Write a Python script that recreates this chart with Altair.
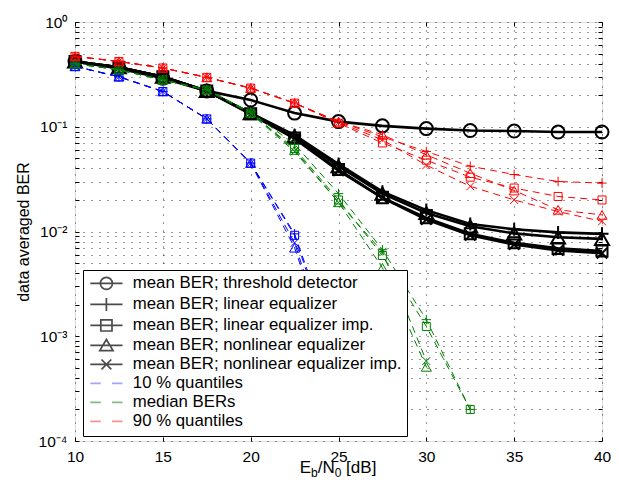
import altair as alt
import pandas as pd

FONT = "Liberation Sans"

# ---------------- data ----------------
x_db = [10, 12.5, 15, 17.5, 20, 22.5, 25, 27.5, 30, 32.5, 35, 37.5, 40]

# mean BERs (black, solid)
mean_thr    = [0.42, 0.36, 0.29, 0.22, 0.18, 0.135, 0.112, 0.102, 0.096, 0.092, 0.091, 0.089, 0.089]
mean_lin    = [0.42, 0.37, 0.30, 0.22, 0.135, 0.083, 0.044, 0.024, 0.016, 0.0118, 0.0105, 0.0098, 0.0095]
mean_linimp = [0.42, 0.37, 0.30, 0.22, 0.133, 0.078, 0.039, 0.021, 0.0135, 0.0095, 0.0078, 0.0069, 0.0065]
mean_nl     = [0.42, 0.37, 0.30, 0.22, 0.135, 0.081, 0.042, 0.023, 0.0150, 0.0112, 0.0096, 0.0088, 0.0085]
mean_nlimp  = [0.42, 0.37, 0.30, 0.22, 0.132, 0.077, 0.038, 0.021, 0.0130, 0.0092, 0.0075, 0.0066, 0.0062]

# 10 % quantiles (blue, dashed)
q10_lin    = [0.377, 0.30, 0.217, 0.119, 0.045, 0.0095, 0.0006]
q10_linimp = [0.377, 0.30, 0.217, 0.119, 0.045, 0.0092, 0.0005]
q10_nl     = [0.377, 0.30, 0.217, 0.119, 0.045, 0.0070, 0.0004]
q10_nlimp  = [0.377, 0.30, 0.217, 0.119, 0.045, 0.0078, 0.0004]

# median BERs (green, dashed)
med_lin    = [0.40, 0.35, 0.28, 0.226, 0.138, 0.068, 0.023, 0.0067, 0.00144, 0.0002]
med_linimp = [0.40, 0.35, 0.28, 0.224, 0.135, 0.062, 0.020, 0.0059, 0.00124, 0.0002]
med_nl     = [0.40, 0.35, 0.28, 0.226, 0.137, 0.060, 0.019, 0.0045, 0.00051]
med_nlimp  = [0.40, 0.35, 0.28, 0.224, 0.134, 0.058, 0.019, 0.0064, 0.00058]

# 90 % quantiles (red, dashed)
q90_lin    = [0.47, 0.42, 0.364, 0.296, 0.234, 0.168, 0.112, 0.080, 0.058, 0.042, 0.035, 0.030, 0.029]
q90_linimp = [0.47, 0.42, 0.364, 0.296, 0.234, 0.168, 0.108, 0.070, 0.048, 0.033, 0.026, 0.0216, 0.020]
q90_nl     = [0.47, 0.42, 0.364, 0.296, 0.234, 0.168, 0.112, 0.084, 0.054, 0.036, 0.0246, 0.0161, 0.0144]
q90_nlimp  = [0.47, 0.42, 0.364, 0.296, 0.234, 0.168, 0.110, 0.075, 0.043, 0.027, 0.020, 0.0155, 0.0125]

x_ticks = [10, 15, 20, 25, 30, 35, 40]
y_tick_labels = ["10\u207b\u2074", "10\u207b\u00b3", "10\u207b\u00b2", "10\u207b\u00b9", "10\u2070"]

leg_labels = [
    "mean BER; threshold detector",
    "mean BER; linear equalizer",
    "mean BER; linear equalizer imp.",
    "mean BER; nonlinear equalizer",
    "mean BER; nonlinear equalizer imp.",
    "10 % quantiles",
    "median BERs",
    "90 % quantiles",
]
xlabel_parts = ["E", "b", "/N", "0", "[dB]"]

# ---------------- table ----------------
groups = {
    "mean": {"thr": mean_thr, "lin": mean_lin, "linimp": mean_linimp, "nl": mean_nl, "nlimp": mean_nlimp},
    "q10": {"lin": q10_lin, "linimp": q10_linimp, "nl": q10_nl, "nlimp": q10_nlimp},
    "med": {"lin": med_lin, "linimp": med_linimp, "nl": med_nl, "nlimp": med_nlimp},
    "q90": {"lin": q90_lin, "linimp": q90_linimp, "nl": q90_nl, "nlimp": q90_nlimp},
}
rows = []
for g, d in groups.items():
    for e, vals in d.items():
        for xv, v in zip(x_db, vals):
            rows.append({"x": xv, "ber": v, "group": g, "est": e, "series": g + "_" + e})
df = pd.DataFrame(rows)

# ---------------- styles ----------------
W, H = 527, 419
PLUS = "M-1,0L1,0M0,-1L0,1"
CROSS = "M-1,-1L1,1M-1,1L1,-1"
marker = {"thr": "circle", "lin": PLUS, "linimp": "square", "nl": "triangle-up", "nlimp": CROSS}
style = {
    "mean": dict(color="#000000", lw=2.6, dash=None, mw=2.0,
                 size={"thr": 169, "lin": 169, "linimp": 121, "nl": 196, "nlimp": 110}),
    "q10": dict(color="#0000ff", lw=1, dash=[7, 5], mw=1.0,
                size={"lin": 90, "linimp": 64, "nl": 100, "nlimp": 64}),
    "med": dict(color="#008000", lw=1, dash=[7, 5], mw=1.0,
                size={"lin": 90, "linimp": 64, "nl": 100, "nlimp": 64}),
    "q90": dict(color="#ff0000", lw=1, dash=[7, 5], mw=1.0,
                size={"lin": 90, "linimp": 64, "nl": 100, "nlimp": 64}),
}

xscale = alt.Scale(domain=[10, 40], nice=False, zero=False)
yscale = alt.Scale(type="log", domain=[1e-4, 1], nice=False)

y_vals = [m * 10.0 ** k for k in range(-4, 0) for m in range(1, 10)] + [1.0]
decades = [1e-4, 1e-3, 1e-2, 1e-1, 1.0]
expr = "''"
for dv, lab in zip(decades, y_tick_labels):
    expr = f"abs(datum.value - {dv}) < {dv * 1e-6} ? '{lab}' : " + "(" + expr + ")"

GRID = dict(grid=True, gridColor="#222222", gridDash=[1, 7], gridWidth=1, gridOpacity=0.9)
ax_x_main = alt.Axis(orient="bottom", values=x_ticks, format="d", domain=False, tickSize=4, offset=-4,
                     tickColor="black", labelPadding=8, labelFontSize=15.5, labelFont=FONT,
                     labelColor="black", labelFlush=False, labelOverlap=False, title=None, **GRID)
ax_y_main = alt.Axis(orient="left", values=y_vals, labelExpr=expr, domain=False, tickSize=4, offset=-4,
                     tickColor="black", labelPadding=8, labelFontSize=15.5, labelFont=FONT,
                     labelColor="black", labelOverlap=False, labelFlush=False,
                     title="data averaged BER", titleFont=FONT, titleFontSize=16,
                     titleFontWeight="normal", titleColor="black", titlePadding=7, **GRID)
ax_x_top = alt.Axis(orient="top", values=x_ticks, labels=False, domain=False, grid=False, tickSize=4,
                    offset=-4, tickColor="black", title=None)
ax_y_right = alt.Axis(orient="right", values=y_vals, labels=False, domain=False, grid=False, tickSize=4,
                      offset=-4, tickColor="black", title=None)

layers = []
first = True
for g, d in groups.items():
    st = style[g]
    sub = df[df.group == g]
    lkw = dict(color=st["color"], strokeWidth=st["lw"])
    if st["dash"]:
        lkw["strokeDash"] = st["dash"]
    xa = ax_x_main if first else None
    ya = ax_y_main if first else None
    first = False
    layers.append(
        alt.Chart(sub).mark_line(**lkw).encode(
            x=alt.X("x:Q", scale=xscale, axis=xa),
            y=alt.Y("ber:Q", scale=yscale, axis=ya),
            detail="series:N",
        )
    )
    for e in d:
        pts = sub[sub.est == e]
        layers.append(
            alt.Chart(pts).mark_point(shape=marker[e], filled=False, color=st["color"],
                                      strokeWidth=st["mw"], size=st["size"][e], opacity=1).encode(
                x=alt.X("x:Q", scale=xscale, axis=None),
                y=alt.Y("ber:Q", scale=yscale, axis=None),
            )
        )

# legend layer (points placed outside the domain and clipped; only the legend shows)
leg_shapes = [
    "M-2.3,0L2.3,0M-0.86,0A0.86,0.86,0,1,1,0.86,0A0.86,0.86,0,1,1,-0.86,0",
    "M-2.3,0L2.3,0M0,-0.93L0,0.93",
    "M-2.3,0L2.3,0M-0.8,-0.8L0.8,-0.8L0.8,0.8L-0.8,0.8Z",
    "M-2.3,0L2.3,0M0,-0.85L0.95,0.75L-0.95,0.75Z",
    "M-2.3,0L2.3,0M-0.7,-0.7L0.7,0.7M-0.7,0.7L0.7,-0.7",
    "M-2.3,0L-0.8,0M0.8,0L2.3,0",
    "M-2.3,0L-0.8,0M0.8,0L2.3,0",
    "M-2.3,0L-0.8,0M0.8,0L2.3,0",
]
leg_colors = ["#000000"] * 5 + ["#7f7fff", "#4fa04f", "#ff5f5f"]
leg_df = pd.DataFrame({"leg": leg_labels, "x": [1000] * 8, "ber": [0.5] * 8})
legend = alt.Legend(title=None, orient="none", legendX=8, legendY=248, fillColor="white",
                    strokeColor="black", padding=5, labelFont=FONT, labelFontSize=16.8,
                    labelColor="black", labelLimit=500, symbolSize=196, symbolOffset=10,
                    labelOffset=18, rowPadding=1, symbolStrokeWidth=1.7)
layers.append(
    alt.Chart(leg_df).mark_point(filled=False, clip=True).encode(
        x=alt.X("x:Q", scale=xscale, axis=ax_x_top),
        y=alt.Y("ber:Q", scale=yscale, axis=ax_y_right),
        color=alt.Color("leg:N", scale=alt.Scale(domain=leg_labels, range=leg_colors), legend=legend),
        shape=alt.Shape("leg:N", scale=alt.Scale(domain=leg_labels, range=leg_shapes), legend=legend),
    )
)

# x-axis title with subscripts: E_b/N_0 [dB]
fs_main, fs_sub = 17, 12
widths = [0.667 * fs_main, 0.556 * fs_sub, 1.0 * fs_main, 0.556 * fs_sub + 0.278 * fs_main, 1.834 * fs_main]
total = sum(widths)
xpos = W / 2 - total / 2
one = pd.DataFrame({"a": [0]})
for i, part in enumerate(xlabel_parts):
    is_sub = part in ("b", "0")
    layers.append(
        alt.Chart(one).mark_text(align="left", baseline="alphabetic", font=FONT,
                                 fontSize=fs_sub if is_sub else fs_main, color="black").encode(
            x=alt.value(xpos), y=alt.value(H + (36 if is_sub else 32)), text=alt.value(part)
        )
    )
    xpos += widths[i]

chart = alt.layer(*layers).resolve_axis(x="independent", y="independent").properties(
    width=W, height=H,
    autosize=alt.AutoSizeParams(type="none"),
    padding={"left": 67, "top": 14, "right": 9, "bottom": 42},
).configure_view(stroke="black", strokeWidth=1.2).configure(background="white")

chart.save("out.html", embed_options={"renderer": "svg", "actions": False})
